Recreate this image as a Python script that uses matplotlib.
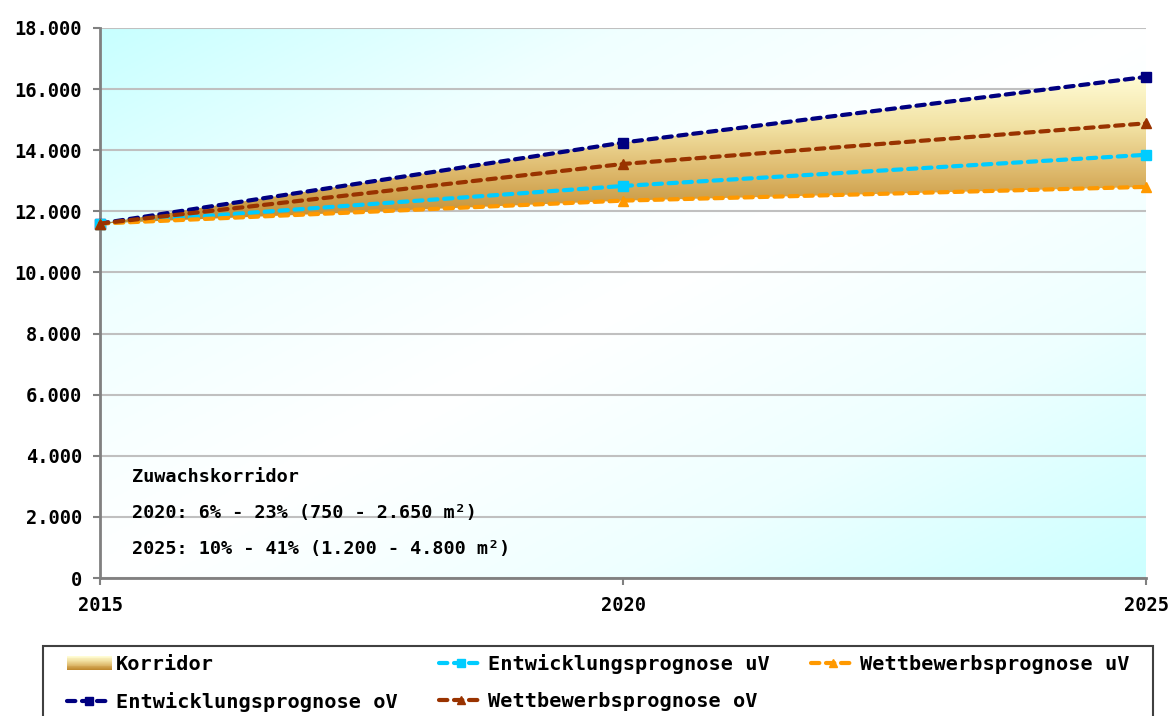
import matplotlib
matplotlib.use('Agg')
import matplotlib.pyplot as plt
import numpy as np
from matplotlib.colors import LinearSegmentedColormap
from matplotlib.patches import Rectangle, Polygon
from matplotlib.legend_handler import HandlerBase
from matplotlib.ticker import FuncFormatter

# Flächenprognose (m²) für die Stützjahre
years = [2015, 2020, 2025]
entw_ov = [11600, 14250, 16400]   # Entwicklungsprognose oberer Verlauf
wett_ov = [11600, 13550, 14880]   # Wettbewerbsprognose oberer Verlauf
entw_uv = [11600, 12830, 13850]   # Entwicklungsprognose unterer Verlauf
wett_uv = [11600, 12350, 12800]   # Wettbewerbsprognose unterer Verlauf

info_lines = ['Zuwachskorridor',
              '2020: 6% - 23% (750 - 2.650 m²)',
              '2025: 10% - 41% (1.200 - 4.800 m²)']

plt.rcParams['font.family'] = ['DejaVu Sans Mono', 'DejaVu Sans']
plt.rcParams['font.weight'] = 'bold'

fig = plt.figure(figsize=(11.73, 7.16), dpi=100)
ax = fig.add_axes([100 / 1173, 1 - 578 / 716, 1046 / 1173, 550 / 716])

# Hintergrund: diagonaler Verlauf cyan -> weiß -> cyan
bg_cmap = LinearSegmentedColormap.from_list(
    'bg', ['#c8ffff', '#f0ffff', '#ffffff', '#eeffff', '#ccffff'])
gx, gy = np.meshgrid(np.linspace(0, 1, 300), np.linspace(0, 1, 300))
ax.imshow((gx + gy) / 2, cmap=bg_cmap, extent=(0, 1, 0, 1), origin='upper',
          transform=ax.transAxes, aspect='auto', zorder=0)

# Korridor mit vertikalem Farbverlauf zwischen unterer und oberer Grenze
corr_cmap = LinearSegmentedColormap.from_list(
    'korr', ['#c08a30', '#dcb668', '#f2e2a4', '#fffcd4'])
lo, hi = min(wett_uv), max(entw_ov)
im = ax.imshow(np.linspace(0, 1, 256).reshape(-1, 1), cmap=corr_cmap,
               extent=(years[0], years[-1], lo, hi), origin='lower',
               aspect='auto', zorder=1)
verts = list(zip(years, wett_uv)) + list(zip(years[::-1], entw_ov[::-1]))
corr_patch = Polygon(verts, closed=True, facecolor='none', edgecolor='none',
                     transform=ax.transData)
ax.add_patch(corr_patch)
im.set_clip_path(corr_patch)

series = [
    ('Entwicklungsprognose oV', entw_ov, '#000080', 's'),
    ('Entwicklungsprognose uV', entw_uv, '#00ccff', 's'),
    ('Wettbewerbsprognose uV', wett_uv, '#ff9900', '^'),
    ('Wettbewerbsprognose oV', wett_ov, '#993300', '^'),
]
handles = {}
for name, vals, col, mk in series:
    ln, = ax.plot(years, vals, color=col, lw=3, marker=mk, markersize=7.5,
                  markeredgecolor=col, dashes=(2.0, 1.6),
                  dash_capstyle='round', zorder=3, clip_on=False,
                  label=name)
    handles[name] = ln

ax.set_xlim(2015, 2025)
ax.set_ylim(0, 18000)
ax.set_xticks(years)
ax.set_yticks(range(0, 18001, 2000))
ax.yaxis.set_major_formatter(
    FuncFormatter(lambda v, p: f'{int(v):,}'.replace(',', '.')))
ax.set_axisbelow(True)
ax.grid(axis='y', color='#c0c0c0', lw=1.5)
ax.grid(axis='x', visible=False)
for s in ['top', 'right']:
    ax.spines[s].set_visible(False)
for s in ['left', 'bottom']:
    ax.spines[s].set_color('#808080')
    ax.spines[s].set_linewidth(2)
ax.tick_params(axis='both', length=5, width=1.5, color='#808080',
               labelsize=13.5, pad=8)
for lbl in ax.get_xticklabels() + ax.get_yticklabels():
    lbl.set_fontweight('bold')

for i, txt in enumerate(info_lines):
    ax.text(32 / 1046, (101 - 36 * i) / 550, txt, transform=ax.transAxes,
            fontsize=13.3, fontweight='bold', va='center', ha='left', zorder=4)


class GradientHandler(HandlerBase):
    def create_artists(self, legend, orig_handle, xdescent, ydescent,
                       width, height, fontsize, trans):
        n = 16
        out = []
        for i in range(n):
            out.append(Rectangle((-xdescent, -ydescent + height * i / n),
                                 width, height / n * 1.05,
                                 facecolor=corr_cmap(i / (n - 1)),
                                 edgecolor='none', transform=trans))
        return out


# Legendenrahmen (läuft unten aus dem Bild)
fig.add_artist(Rectangle((43 / 1173, -0.1), 1110 / 1173, 0.1 + 1 - 646 / 716,
                         transform=fig.transFigure, facecolor='white',
                         edgecolor='#404040', lw=1.5, zorder=1))

korridor = Rectangle((0, 0), 1, 1, label='Korridor')
leg_handles = [korridor, handles['Entwicklungsprognose oV'],
               handles['Entwicklungsprognose uV'],
               handles['Wettbewerbsprognose oV'],
               handles['Wettbewerbsprognose uV']]
leg = fig.legend(handles=leg_handles,
                 labels=[h.get_label() for h in leg_handles],
                 handler_map={Rectangle: GradientHandler()},
                 loc='upper left', ncol=3, mode='expand',
                 bbox_to_anchor=(67 / 1173, 1 - 654 / 716, 1062 / 1173, 0),
                 borderaxespad=0, borderpad=0, frameon=False, numpoints=1,
                 markerscale=0.7, handlelength=2.2, handletextpad=0.2,
                 labelspacing=0.9, prop={'size': 14.6, 'weight': 'bold'})
leg.set_zorder(2)

fig.savefig('out.png', dpi=100)
